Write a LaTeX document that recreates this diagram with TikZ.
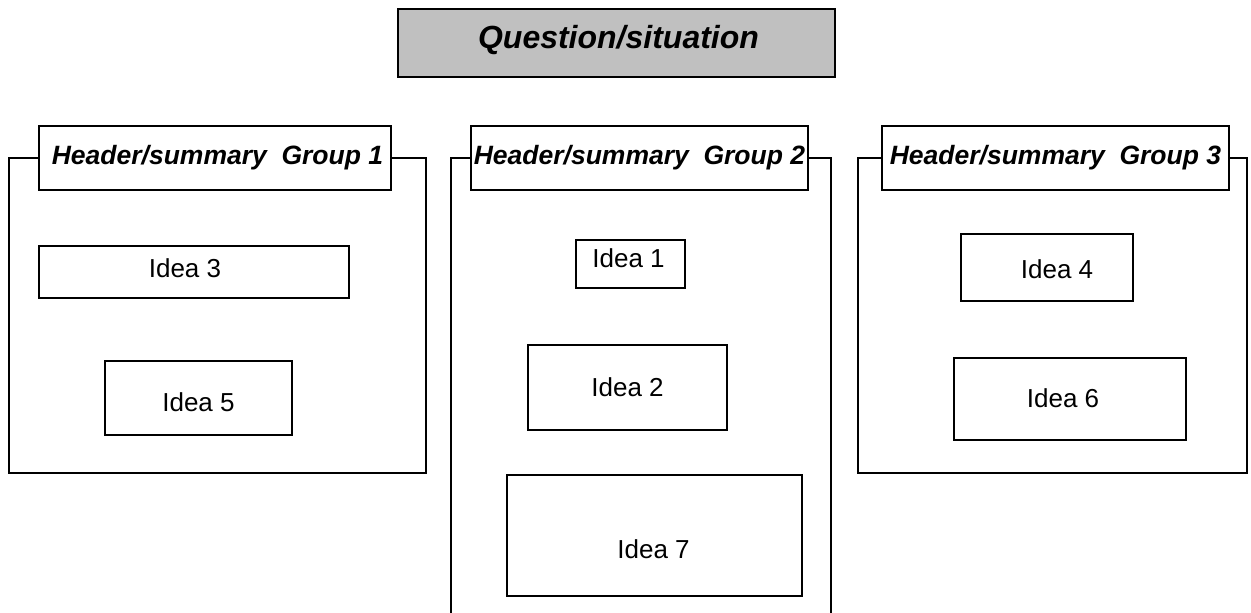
\documentclass[tikz,border=0pt]{standalone}
\usepackage{fontspec}
\setmainfont{Liberation Sans}
\begin{document}
\begin{tikzpicture}[x=1pt,y=-1pt,
  frame/.style={draw=black, line width=2.7pt},
  topbox/.style={draw=black, line width=2.7pt, fill=qgrey, inner sep=0pt},
  hdr/.style={draw=black, line width=2.7pt, fill=white, inner sep=0pt,
    minimum height=64pt, font=\fontsize{26.5}{32}\selectfont\bfseries\itshape},
  idea/.style={draw=black, line width=2.7pt, fill=white, inner sep=0pt},
  ideal/.style={font=\fontsize{26}{31}\selectfont, inner sep=0pt}
]
\definecolor{qgrey}{HTML}{C0C0C0}
\useasboundingbox (0,0) rectangle (1251,613);

% top question box
\node[topbox, minimum width=437pt, minimum height=68pt,
  label={[font=\fontsize{32}{38}\selectfont\bfseries\itshape, inner sep=0pt, xshift=2pt, yshift=3pt]center:Question/situation}]
  (q) at (616.5,43) {};

% group headers (background, to place frames)
\node[hdr, minimum width=352pt] (h1) at (215,158) {};
\node[hdr, minimum width=337pt] (h2) at (639.5,158) {};
\node[hdr, minimum width=347pt] (h3) at (1055.5,158) {};

% group frames
\coordinate (g1bl) at (9,473);
\coordinate (g1tr) at (426,158);
\coordinate (g2bl) at (451,640);
\coordinate (g2br) at (831,640);
\coordinate (g3bl) at (858,473);
\coordinate (g3tr) at (1247,158);
\draw[frame] (h1.west) -| (g1bl) -| (g1tr) -- (h1.east);
\draw[frame] (h2.west) -| (g2bl);
\draw[frame] (h2.east) -| (g2br);
\draw[frame] (h3.west) -| (g3bl) -| (g3tr) -- (h3.east);

% headers with text
\node[hdr, minimum width=352pt] (h1t) at (215,158) {\hspace*{5pt}Header/summary\ \ Group 1};
\node[hdr, minimum width=337pt] (h2t) at (639.5,158) {Header/summary\ \ Group 2};
\node[hdr, minimum width=347pt] (h3t) at (1055.5,158) {Header/summary\ \ Group 3};

% ideas
\node[idea, minimum width=310pt, minimum height=52pt,
  label={[ideal, xshift=-9pt, yshift=4pt]center:Idea 3}] (i3) at (194,272) {};
\node[idea, minimum width=187pt, minimum height=74pt,
  label={[ideal, yshift=-4pt]center:Idea 5}] (i5) at (198.5,398) {};
\node[idea, minimum width=109pt, minimum height=48pt,
  label={[ideal, xshift=-2pt, yshift=6pt]center:Idea 1}] (i1) at (630.5,264) {};
\node[idea, minimum width=199pt, minimum height=85pt,
  label={[ideal]center:Idea 2}] (i2) at (627.5,387.5) {};
\node[idea, minimum width=295pt, minimum height=121pt,
  label={[ideal, xshift=-1pt, yshift=-14pt]center:Idea 7}] (i7) at (654.5,535.5) {};
\node[idea, minimum width=172pt, minimum height=67pt,
  label={[ideal, xshift=10pt, yshift=-2pt]center:Idea 4}] (i4) at (1047,267.5) {};
\node[idea, minimum width=232pt, minimum height=82pt,
  label={[ideal, xshift=-7pt, yshift=1pt]center:Idea 6}] (i6) at (1070,399) {};
\end{tikzpicture}
\end{document}
